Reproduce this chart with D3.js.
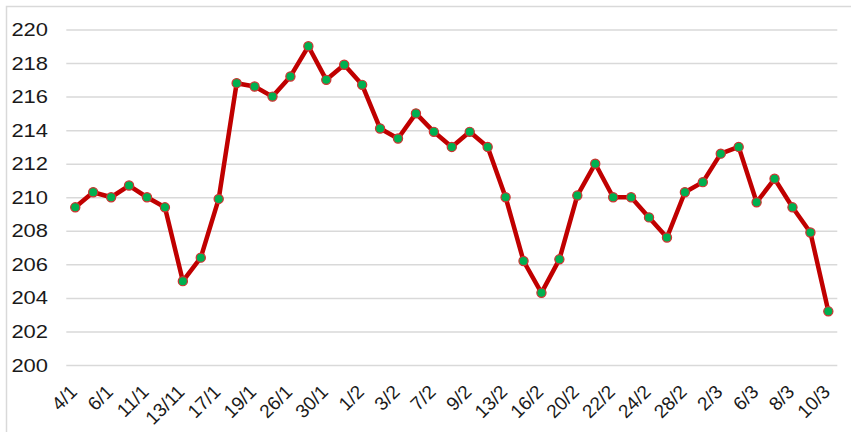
<!DOCTYPE html>
<html><head><meta charset="utf-8">
<script src="https://cdn.jsdelivr.net/npm/d3@7"></script>
<style>html,body{margin:0;padding:0;background:#fff;overflow:hidden}</style>
</head><body>
<svg id="c" width="851" height="432"></svg>
<script>
const categories = ["4/1","5/1","6/1","7/1","11/1","12/1","13/11","14/1","17/1","18/1","19/1","20/1","26/1","27/1","30/1","31/1","1/2","2/2","3/2","6/2","7/2","8/2","9/2","10/2","13/2","14/2","16/2","17/2","20/2","21/2","22/2","23/2","24/2","27/2","28/2","1/3","2/3","3/3","6/3","7/3","8/3","9/3","10/3"];
const tickLabels = ["4/1","6/1","11/1","13/11","17/1","19/1","26/1","30/1","1/2","3/2","7/2","9/2","13/2","16/2","20/2","22/2","24/2","28/2","2/3","6/3","8/3","10/3"];
const values = [209.4,210.3,210.0,210.7,210.0,209.4,205.0,206.4,209.9,216.8,216.6,216.0,217.2,219.0,217.0,217.9,216.7,214.1,213.5,215.0,213.9,213.0,213.9,213.0,210.0,206.2,204.3,206.3,210.1,212.0,210.0,210.0,208.8,207.6,210.3,210.9,212.6,213.0,209.7,211.1,209.4,207.9,203.2];
const yTicks = [200,202,204,206,208,210,212,214,216,218,220];

const svg = d3.select("#c");
const SX = 1.22;
const font = "'Liberation Sans', Arial, sans-serif";

// outer frame
svg.append("rect").attr("x",6.5).attr("y",6.5).attr("width",900).attr("height",500)
  .attr("fill","none").attr("stroke","#d9d9d9").attr("stroke-width",1.5);

const x = d3.scaleBand().domain(categories).range([66.3, 837.3]).padding(0);
const y = d3.scaleLinear().domain([200,220]).range([365,29.5]);
const cx = d => x(d) + x.bandwidth()/2;

// gridlines
const gAxisY = svg.append("g").attr("transform","translate(66.3,0)")
  .call(d3.axisLeft(y).tickValues(yTicks).tickSize(-(837.3-66.3)).tickFormat(""));
gAxisY.select(".domain").remove();
gAxisY.selectAll(".tick line").attr("stroke","#d9d9d9").attr("stroke-width",1.5);

// y labels
svg.append("g").selectAll("text").data(yTicks).join("text")
  .attr("transform", d => `translate(48,${y(d)+6.5}) scale(${SX},1)`)
  .attr("text-anchor","end").attr("font-family",font).attr("font-size",18).attr("fill","#1a1a1a")
  .text(d => d);

// x labels
svg.append("g").selectAll("text").data(tickLabels).join("text")
  .attr("transform", d => `translate(${cx(d)+3},393) rotate(-45)`)
  .attr("text-anchor","end").attr("font-family",font).attr("font-size",19).attr("fill","#1a1a1a")
  .text(d => d);

// line
const line = d3.line().x((d,i) => cx(categories[i])).y(d => y(d));
svg.append("path").datum(values).attr("d",line).attr("fill","none")
  .attr("stroke","#c00000").attr("stroke-width",4.5).attr("stroke-linejoin","round");

// markers
svg.append("g").selectAll("circle").data(values).join("circle")
  .attr("cx",(d,i)=>cx(categories[i])).attr("cy",d=>y(d)).attr("r",4.6)
  .attr("fill","#00b050").attr("stroke","#d03030").attr("stroke-width",1.2);
</script>
</body></html>
